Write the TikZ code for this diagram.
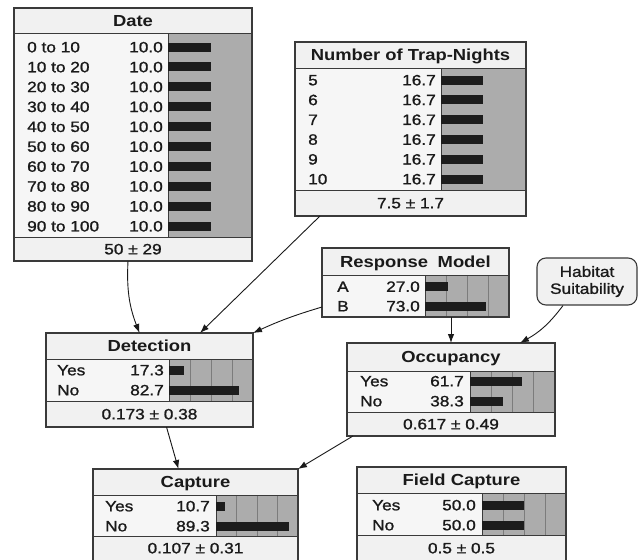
\documentclass[tikz,border=0pt]{standalone}
\usepackage{fontspec}
\setmainfont{Liberation Sans}[FakeStretch=1.15, UprightFeatures={FakeBold=1.2}]
\usetikzlibrary{arrows.meta,positioning,calc}

\definecolor{boxline}{HTML}{3A3A3A}
\definecolor{headbg}{HTML}{F1F1F1}
\definecolor{bodybg}{HTML}{F6F6F6}
\definecolor{barbg}{HTML}{ACACAC}
\definecolor{barblk}{HTML}{1C1C1C}
\definecolor{gridcol}{HTML}{7C7C7C}
\definecolor{inkcol}{HTML}{1A1A1A}

\begin{document}
\begin{tikzpicture}[x=1pt, y=-1pt,
  netbox/.style={draw=boxline, line width=1.1pt, anchor=north west, inner sep=0pt, outer sep=0pt},
  head/.style={font=\fontsize{16}{18}\selectfont\bfseries, text=inkcol, inner sep=0pt, text height=11.5pt, text depth=0pt},
  lab/.style={font=\fontsize{15}{17}\selectfont, text=inkcol, inner sep=0pt, text height=10.7pt, text depth=0pt, anchor=west},
  val/.style={lab, anchor=east},
  foot/.style={lab, anchor=center},
  bar/.style={fill=barblk},
  gridline/.style={draw=gridcol, line width=0.6pt},
  divider/.style={draw=boxline, line width=0.8pt},
  arr/.style={-{Latex[length=9pt,width=6.5pt]}, draw=inkcol, line width=0.9pt},
  habitat/.style={draw=boxline, line width=1.1pt, fill=headbg, rounded corners=9pt, minimum width=100pt, minimum height=47pt, align=center, inner sep=0pt, font=\fontsize{15}{17}\selectfont, text=inkcol}
]
\path[use as bounding box, fill=white] (0,0) rectangle (641,560);

% Date
\fill[headbg] (14,8) rectangle (252,261);
\fill[bodybg] (14,33) rectangle (168,237);
\fill[barbg] (168,33) rectangle (252,237);
\draw[divider] (14,33) -- (252,33) (14,237) -- (252,237) (168,33) -- (168,237);
\node[head] (date-t) at (133,21) {Date};
\foreach \lab [count=\i from 0] in {0 to 10,10 to 20,20 to 30,30 to 40,40 to 50,50 to 60,60 to 70,70 to 80,80 to 90,90 to 100} {
  \pgfmathsetmacro\yy{47+19.9*\i}
  \node[lab] (date-l\i) at (27,\yy) {\lab};
  \node[val] (date-v\i) at (163,\yy) {10.0};
  \fill[bar] (168,\yy-4.5) rectangle ++(43,9);
}
\node[foot] (date-f) at (133,249) {50 ± 29};
\node[netbox, minimum width=238pt, minimum height=253pt] (date) at (14,8) {};

% Number of Trap-Nights
\fill[headbg] (295,42) rectangle (526,216);
\fill[bodybg] (295,68) rectangle (441,190);
\fill[barbg] (441,68) rectangle (526,190);
\draw[divider] (295,68) -- (526,68) (295,190) -- (526,190) (441,68) -- (441,190);
\node[head] (trap-t) at (410.5,55) {Number of Trap-Nights};
\foreach \lab [count=\i from 0] in {5,...,10} {
  \pgfmathsetmacro\yy{80+19.8*\i}
  \node[lab] (trap-l\i) at (308,\yy) {\lab};
  \node[val] (trap-v\i) at (436,\yy) {16.7};
  \fill[bar] (441,\yy-4.5) rectangle ++(42,9);
}
\node[foot] (trap-f) at (410.5,203) {7.5 ± 1.7};
\node[netbox, minimum width=231pt, minimum height=174pt] (trap) at (295,42) {};

% Response Model
\fill[headbg] (322,248) rectangle (509,275);
\fill[bodybg] (322,275) rectangle (425,317);
\fill[barbg] (425,275) rectangle (509,317);
\foreach \gx in {446,467,488} \draw[gridline] (\gx,275) -- (\gx,317);
\draw[divider] (322,275) -- (509,275) (425,275) -- (425,317);
\node[head] (resp-t) at (415.5,262) {Response\hspace{0.6em}Model};
\foreach \lab/\val/\len [count=\i from 0] in {A/27.0/22.7,B/73.0/61.3} {
  \pgfmathsetmacro\yy{286.5+19.5*\i}
  \node[lab] (resp-l\i) at (337,\yy) {\lab};
  \node[val] (resp-v\i) at (420,\yy) {\val};
  \fill[bar] (425,\yy-4.5) rectangle ++(\len,9);
}
\node[netbox, minimum width=187pt, minimum height=69pt] (resp) at (322,248) {};

% Habitat Suitability
\node[habitat] (hab) at (587,281.5) {Habitat\\Suitability};

% Occupancy
\fill[headbg] (347,343) rectangle (555,436);
\fill[bodybg] (347,371) rectangle (470,412);
\fill[barbg] (470,371) rectangle (555,412);
\foreach \gx in {491.25,512.5,533.75} \draw[gridline] (\gx,371) -- (\gx,412);
\draw[divider] (347,371) -- (555,371) (347,412) -- (555,412) (470,371) -- (470,412);
\node[head] (occ-t) at (451,357) {Occupancy};
\foreach \lab/\val/\len [count=\i from 0] in {Yes/61.7/52.4,No/38.3/32.6} {
  \pgfmathsetmacro\yy{381+20*\i}
  \node[lab] (occ-l\i) at (360,\yy) {\lab};
  \node[val] (occ-v\i) at (464,\yy) {\val};
  \fill[bar] (470,\yy-4.5) rectangle ++(\len,9);
}
\node[foot] (occ-f) at (451,424) {0.617 ± 0.49};
\node[netbox, minimum width=208pt, minimum height=93pt] (occ) at (347,343) {};

% Detection
\fill[headbg] (46,333) rectangle (253,427);
\fill[bodybg] (46,359) rectangle (169,401);
\fill[barbg] (169,359) rectangle (253,401);
\foreach \gx in {190,211,232} \draw[gridline] (\gx,359) -- (\gx,401);
\draw[divider] (46,359) -- (253,359) (46,401) -- (253,401) (169,359) -- (169,401);
\node[head] (det-t) at (149.5,346) {Detection};
\foreach \lab/\val/\len [count=\i from 0] in {Yes/17.3/14.5,No/82.7/69.5} {
  \pgfmathsetmacro\yy{370+20*\i}
  \node[lab] (det-l\i) at (57,\yy) {\lab};
  \node[val] (det-v\i) at (164,\yy) {\val};
  \fill[bar] (169,\yy-4.5) rectangle ++(\len,9);
}
\node[foot] (det-f) at (149.5,414) {0.173 ± 0.38};
\node[netbox, minimum width=207pt, minimum height=94pt] (det) at (46,333) {};

% Capture
\fill[headbg] (93,469) rectangle (298,562);
\fill[bodybg] (93,495) rectangle (216,536);
\fill[barbg] (216,495) rectangle (298,536);
\foreach \gx in {236.5,257,277.5} \draw[gridline] (\gx,495) -- (\gx,536);
\draw[divider] (93,495) -- (298,495) (93,536) -- (298,536) (216,495) -- (216,536);
\node[head] (cap-t) at (195.5,482) {Capture};
\foreach \lab/\val/\len [count=\i from 0] in {Yes/10.7/8.8,No/89.3/73.2} {
  \pgfmathsetmacro\yy{506+20*\i}
  \node[lab] (cap-l\i) at (105,\yy) {\lab};
  \node[val] (cap-v\i) at (210,\yy) {\val};
  \fill[bar] (216,\yy-4.5) rectangle ++(\len,9);
}
\node[foot] (cap-f) at (195.5,548) {0.107 ± 0.31};
\node[netbox, minimum width=205pt, minimum height=93pt] (cap) at (93,469) {};

% Field Capture
\fill[headbg] (357,467) rectangle (566,562);
\fill[bodybg] (357,493) rectangle (482,535);
\fill[barbg] (482,493) rectangle (566,535);
\foreach \gx in {503,524,545} \draw[gridline] (\gx,493) -- (\gx,535);
\draw[divider] (357,493) -- (566,493) (357,535) -- (566,535) (482,493) -- (482,535);
\node[head] (field-t) at (461.5,480) {Field Capture};
\foreach \lab/\val/\len [count=\i from 0] in {Yes/50.0/42,No/50.0/42} {
  \pgfmathsetmacro\yy{505+20*\i}
  \node[lab] (field-l\i) at (372,\yy) {\lab};
  \node[val] (field-v\i) at (476,\yy) {\val};
  \fill[bar] (482,\yy-4.5) rectangle ++(\len,9);
}
\node[foot] (field-f) at (461.5,548) {0.5 ± 0.5};
\node[netbox, minimum width=209pt, minimum height=95pt] (field) at (357,467) {};

% links
\draw[arr] ([xshift=-5pt]date.south) to[bend right=12] ([xshift=-10pt]det.north);
\draw[arr] ([xshift=25pt]trap.south west) -- ([xshift=50.5pt]det.north);
\draw[arr] ([yshift=10pt]resp.south west) to[bend right=4] (det.north east);
\draw[arr] (occ.north |- resp.south) -- (occ.north);
\draw[arr] ([xshift=-24pt]hab.south) to[bend left=12] ([xshift=-35pt]occ.north east);
\draw[arr] ([xshift=17pt]det.south) -- ([xshift=-17pt]cap.north);
\draw[arr] ([xshift=6pt]occ.south west) -- (cap.north east);

\end{tikzpicture}
\end{document}
